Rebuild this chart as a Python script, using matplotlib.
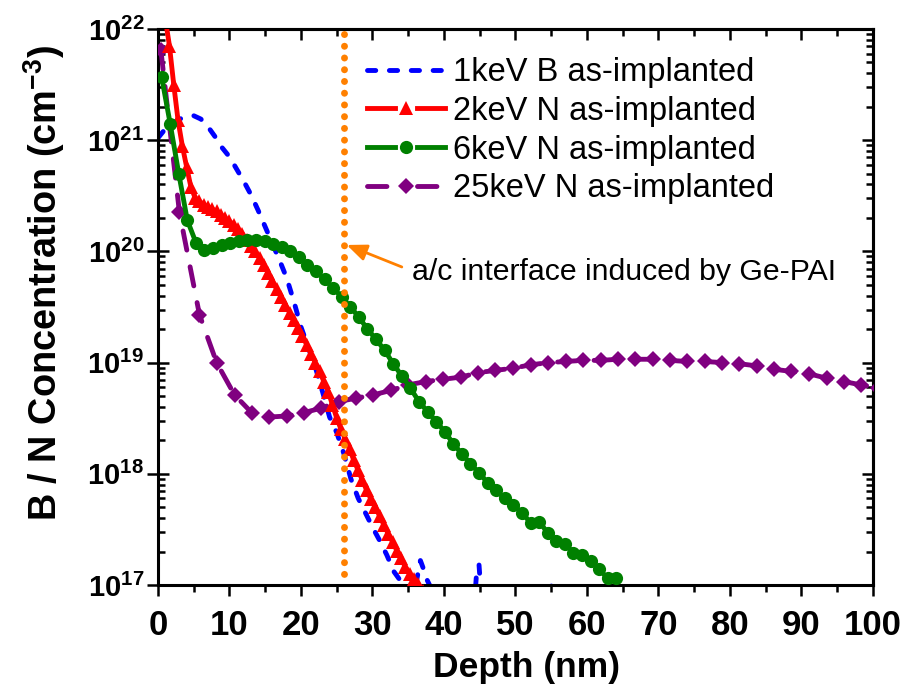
import numpy as np
import matplotlib
matplotlib.use("Agg")
import matplotlib.pyplot as plt
from matplotlib.lines import Line2D
from matplotlib.legend_handler import HandlerBase
from matplotlib.ticker import MultipleLocator, LogLocator, FuncFormatter, NullFormatter

plt.rcParams['font.family'] = ['Liberation Sans', 'DejaVu Sans']
plt.rcParams['font.weight'] = 'bold'
plt.rcParams['axes.labelweight'] = 'bold'
plt.rcParams['mathtext.fontset'] = 'custom'
plt.rcParams['mathtext.rm'] = 'Liberation Sans:bold'
plt.rcParams['mathtext.it'] = 'Liberation Sans:bold'
plt.rcParams['mathtext.bf'] = 'Liberation Sans:bold'

# ---- depth profiles: depth in nm, concentration given as log10(cm^-3) ----
b1_depth = [0.0, 1.0, 2.0, 3.0, 4.0, 5.0, 6.0, 7.0, 8.0, 9.0, 10.0, 11.0, 12.0,
            13.0, 14.0, 15.0, 16.0, 17.0, 18.0, 19.0, 20.0, 21.0, 22.0, 23.0,
            24.0, 25.0, 26.0, 27.0, 28.0, 29.0, 30.0, 31.0, 32.0, 33.0, 34.0,
            34.5, 35.0, 35.6, 36.2, 36.7, 37.1, 37.6, 38.2, 38.7, 39.2, 40.0,
            44.0, 44.6, 44.9, 45.2, 46.0, 54.7, 55.0, 55.3, 56.0]
b1_log = [21.02, 21.10, 21.15, 21.19, 21.21, 21.22, 21.19, 21.12, 21.03, 20.93,
          20.85, 20.74, 20.63, 20.51, 20.37, 20.22, 20.07, 19.92, 19.76, 19.55,
          19.32, 19.14, 18.96, 18.74, 18.51, 18.37, 18.18, 17.95, 17.78, 17.65,
          17.52, 17.40, 17.27, 17.12, 17.03, 16.98, 16.90, 16.95, 17.05, 17.22,
          17.15, 17.05, 16.97, 17.00, 16.90, 16.60, 16.60, 17.15, 17.18, 16.90,
          16.60, 16.60, 17.01, 16.60, 16.50]

n2_depth = [1.0, 1.6, 2.2, 2.8, 3.4, 4.0, 4.6, 5.2, 5.8, 6.4, 7.0, 7.6, 8.2, 8.8,
            9.4, 10.0, 10.6, 11.2, 11.8, 12.4, 13.0, 13.6, 14.2, 14.8, 15.4,
            16.0, 16.6, 17.2, 17.8, 18.4, 19.0, 19.6, 20.2, 20.8, 21.4, 22.0,
            22.6, 23.2, 23.8, 24.4, 25.0, 25.6, 26.2, 26.8, 27.4, 28.0, 28.6,
            29.2, 29.8, 30.4, 31.0, 31.6, 32.2, 32.8, 33.4, 34.0, 34.6, 35.2,
            35.8, 36.4, 37.0]
n2_log = [22.10, 21.85, 21.50, 21.18, 20.95, 20.76, 20.58, 20.48, 20.45, 20.42,
          20.40, 20.38, 20.36, 20.33, 20.30, 20.27, 20.24, 20.20, 20.16, 20.10,
          20.05, 20.00, 19.94, 19.88, 19.81, 19.73, 19.66, 19.59, 19.52, 19.45,
          19.38, 19.31, 19.24, 19.16, 19.08, 19.00, 18.92, 18.83, 18.74, 18.62,
          18.50, 18.40, 18.31, 18.22, 18.12, 18.03, 17.94, 17.85, 17.77, 17.70,
          17.62, 17.54, 17.46, 17.39, 17.31, 17.24, 17.16, 17.10, 17.05, 17.01,
          16.95]

n6_depth = [0.5, 1.7, 2.9, 4.1, 5.3, 6.5, 7.7, 8.9, 10.1, 11.3, 12.5, 13.7, 14.9,
            16.1, 17.3, 18.5, 19.7, 20.9, 22.1, 23.3, 24.5, 25.7, 26.9, 28.1,
            29.3, 30.5, 31.7, 32.9, 34.1, 35.3, 36.5, 37.7, 38.9, 40.1, 41.3,
            42.5, 43.7, 44.9, 46.1, 47.3, 48.5, 49.7, 50.9, 52.1, 53.3, 54.5,
            55.7, 56.9, 58.1, 59.3, 60.5, 61.7, 62.9, 64.1]
n6_log = [21.57, 21.15, 20.70, 20.28, 20.08, 20.01, 20.03, 20.06, 20.08, 20.09,
          20.10, 20.10, 20.09, 20.07, 20.04, 20.00, 19.95, 19.88, 19.82, 19.75,
          19.67, 19.59, 19.50, 19.41, 19.30, 19.21, 19.11, 18.99, 18.88, 18.77,
          18.65, 18.56, 18.47, 18.38, 18.27, 18.18, 18.09, 18.01, 17.92, 17.85,
          17.78, 17.72, 17.65, 17.56, 17.57, 17.47, 17.40, 17.37, 17.29, 17.27,
          17.22, 17.14, 17.06, 17.06]

n25_depth = [0.4, 3.0, 5.8, 8.2, 10.7, 13.1, 15.5, 18.0, 20.4, 22.8, 25.3, 27.7,
             30.1, 32.6, 35.0, 37.5, 39.9, 42.4, 44.8, 47.2, 49.7, 52.1, 54.6,
             57.0, 59.4, 61.9, 64.3, 66.7, 69.2, 71.6, 74.0, 76.5, 78.9, 81.3,
             83.8, 86.2, 88.6, 91.0, 93.5, 95.9, 98.3, 100.7]
n25_log = [21.81, 20.35, 19.43, 19.00, 18.71, 18.55, 18.51, 18.52, 18.55, 18.59,
           18.65, 18.68, 18.71, 18.75, 18.80, 18.83, 18.85, 18.87, 18.91, 18.93,
           18.95, 18.98, 19.00, 19.01, 19.02, 19.02, 19.03, 19.03, 19.03, 19.02,
           19.01, 19.01, 19.00, 18.99, 18.97, 18.94, 18.92, 18.90, 18.86, 18.83,
           18.80, 18.77]

series_labels = ["1keV B as-implanted", "2keV N as-implanted",
                 "6keV N as-implanted", "25keV N as-implanted"]

interface_depth = 26.0             # nm, amorphous/crystalline interface
interface_span = [21.955, 17.08]   # log10 extent of the marker line
interface_note = "a/c interface induced by Ge-PAI"

BLUE, RED, GREEN, PURPLE, ORANGE = "#0000FF", "#FF0000", "#008000", "#800080", "#FF8000"


def conc(logs):
    return np.power(10.0, np.asarray(logs, dtype=float))


class SplitLineHandler(HandlerBase):
    """Legend key drawn as: line segment, symbol, line segment."""

    def create_artists(self, legend, orig_handle, xdescent, ydescent,
                       width, height, fontsize, trans):
        y = height / 2.0 - ydescent
        x0 = -xdescent
        x1 = x0 + width
        xm = 0.5 * (x0 + x1)
        gap = 0.14 * width
        arts = []
        for xs in ([x0, xm - gap], [xm + gap, x1]):
            seg = Line2D(xs, [y, y])
            seg.update_from(orig_handle)
            seg.set_marker('None')
            seg.set_transform(trans)
            arts.append(seg)
        mk = Line2D([xm], [y])
        mk.update_from(orig_handle)
        mk.set_linestyle('None')
        mk.set_transform(trans)
        arts.append(mk)
        return arts


fig = plt.figure(figsize=(9.04, 6.86), dpi=100)
ax = fig.add_axes([158 / 904, 1 - 585 / 686, 715 / 904, 556 / 686])
ax.set_yscale('log')

lw = 3.5
hb, = ax.plot(b1_depth, conc(b1_log), color=BLUE, lw=lw,
              linestyle=(0, (1.7, 2.8)), dash_capstyle='round', zorder=2)
hp, = ax.plot(n25_depth, conc(n25_log), color=PURPLE, lw=lw,
              linestyle=(0, (4.0, 3.5)), dash_capstyle='round',
              marker='D', ms=8.5, mew=0, zorder=3)
hr, = ax.plot(n2_depth, conc(n2_log), color=RED, lw=lw,
              marker='^', ms=10.5, mew=0, zorder=4)
hg, = ax.plot(n6_depth, conc(n6_log), color=GREEN, lw=lw,
              marker='o', ms=9.5, mew=0, zorder=5)

# interface position
ax.plot([interface_depth, interface_depth], conc(interface_span), color=ORANGE,
        lw=5, linestyle=(0, (0.01, 1.68)), dash_capstyle='round', zorder=6)
ax.annotate('', xy=(26.4, 10 ** 20.058), xytext=(34.1, 10 ** 19.86),
            arrowprops=dict(arrowstyle='-|>,head_length=0.6,head_width=0.25',
                            color=ORANGE, lw=2, shrinkA=0, shrinkB=0,
                            mutation_scale=20), zorder=6)
ax.text(35.5, 10 ** 19.743, interface_note, fontsize=21.8, fontweight='normal',
        va='baseline', ha='left', zorder=7)

ax.set_xlim(0, 100)
ax.set_ylim(1e17, 1e22)

# axes styling
for sp in ax.spines.values():
    sp.set_linewidth(2.2)

ax.xaxis.set_major_locator(MultipleLocator(10))
ax.xaxis.set_minor_locator(MultipleLocator(5))
ax.yaxis.set_major_locator(LogLocator(base=10, numticks=10))
ax.yaxis.set_minor_locator(LogLocator(base=10, subs=np.arange(2, 10), numticks=10))
ax.yaxis.set_minor_formatter(NullFormatter())
ax.yaxis.set_major_formatter(FuncFormatter(lambda v, p: r'$10^{%d}$' % round(np.log10(v))))

ax.tick_params(axis='x', which='major', direction='out', length=8, width=1.8,
               labelsize=25, pad=9,
               labelfontfamily=['Liberation Sans Narrow', 'Liberation Sans'])
ax.tick_params(axis='x', which='minor', direction='out', length=5, width=1.8)
ax.tick_params(axis='y', which='major', direction='inout', length=16, width=1.8,
               labelsize=21, pad=2)
ax.tick_params(axis='y', which='minor', direction='in', length=5, width=1.8)

top = ax.secondary_xaxis('top')
top.xaxis.set_major_locator(MultipleLocator(10))
top.xaxis.set_minor_locator(MultipleLocator(5))
top.tick_params(which='major', direction='in', length=8, width=1.8, labeltop=False)
top.tick_params(which='minor', direction='in', length=5, width=1.8)
top.spines['top'].set_linewidth(2.2)

right = ax.secondary_yaxis('right')
right.yaxis.set_major_locator(LogLocator(base=10, numticks=10))
right.yaxis.set_minor_locator(LogLocator(base=10, subs=np.arange(2, 10), numticks=10))
right.tick_params(which='major', direction='in', length=8, width=1.8, labelright=False)
right.tick_params(which='minor', direction='in', length=5, width=1.8)
right.yaxis.set_minor_formatter(NullFormatter())
right.spines['right'].set_linewidth(2.2)

ax.set_xlabel('Depth (nm)', fontsize=25.5)
ax.xaxis.set_label_coords(0.515, -0.118)
ax.set_ylabel('B / N Concentration (cm$^{-3}$)', fontsize=27.3)
ax.yaxis.set_label_coords(-0.127, 0.543)

split = SplitLineHandler()
ax.legend([hb, hr, hg, hp], series_labels, loc='upper left',
          bbox_to_anchor=(367 / 904, 1 - 57 / 686), bbox_transform=fig.transFigure,
          frameon=False, prop={'family': 'Liberation Sans', 'weight': 'normal', 'size': 23.5},
          handlelength=2.39, handletextpad=0.25, labelspacing=0.24,
          borderpad=0, borderaxespad=0,
          handler_map={hr: split, hg: split, hp: split})

fig.savefig('out.png', dpi=100)
